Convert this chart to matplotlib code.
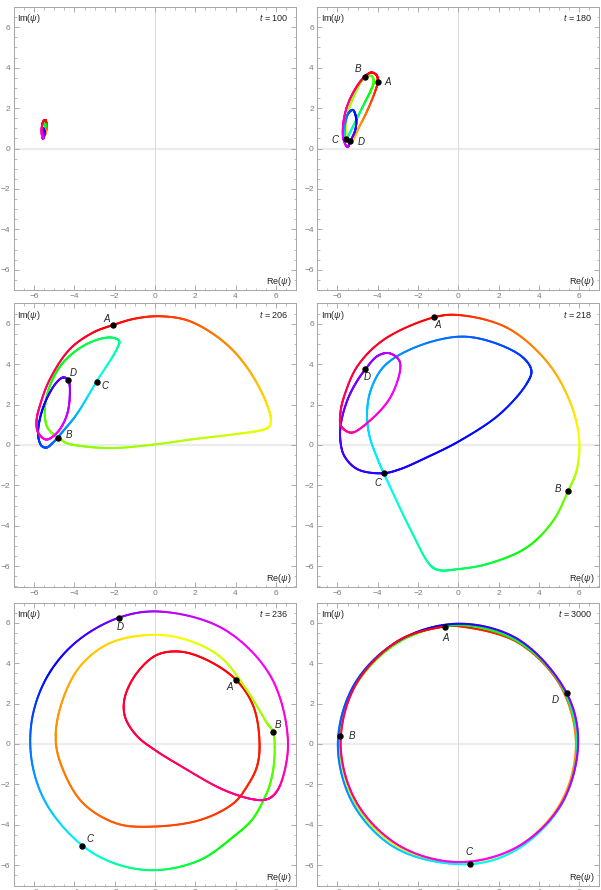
import numpy as np
import matplotlib
matplotlib.use("Agg")
import matplotlib.pyplot as plt
from matplotlib.collections import LineCollection
from matplotlib.colors import hsv_to_rgb

plt.rcParams['font.family'] = ['Liberation Sans', 'DejaVu Sans']
plt.rcParams['mathtext.fontset'] = 'custom'
plt.rcParams['mathtext.rm'] = 'Liberation Sans'
plt.rcParams['mathtext.it'] = 'Liberation Sans:italic'

# psi(theta) snapshots: knots along each closed curve, h = theta / 2pi (colour = Hue[h])
t100_x = [-5.40, -5.37, -5.41, -5.47, -5.52, -5.58, -5.54, -5.47, -5.43, -5.46, -5.50,
          -5.53, -5.56, -5.53, -5.49, -5.50, -5.56, -5.62, -5.62, -5.55, -5.45]
t100_y = [1.30, 1.10, 0.85, 0.65, 0.58, 0.85, 1.15, 1.33, 1.25, 1.00, 0.75,
          0.65, 0.80, 0.98, 0.85, 0.64, 0.48, 0.70, 1.05, 1.33, 1.41]
t100_h = [0, .04, .08, .12, .15, .19, .23, .25, .30, .38, .45,
          .50, .56, .62, .68, .75, .80, .85, .90, .95, .98]

t180_x = [-4.00, -4.16, -4.58, -5.00, -5.24, -5.42, -5.58, -5.52, -5.20, -4.63, -4.30,
          -4.20, -4.33, -4.66, -5.07, -5.40, -5.57, -5.64, -5.48, -5.24, -5.07, -5.12,
          -5.36, -5.50, -5.70, -5.72, -5.55, -5.20, -4.75, -4.33, -4.05]
t180_y = [3.30, 2.74, 1.74, 0.91, 0.41, 0.32, 0.75, 1.60, 2.55, 3.53, 3.58,
          3.30, 2.90, 2.24, 1.41, 0.75, 0.45, 1.00, 1.70, 1.91, 1.50, 0.90,
          0.36, 0.07, 0.45, 1.15, 2.00, 2.80, 3.45, 3.76, 3.62]
t180_h = [0, .03, .07, .11, .14, .16, .19, .215, .235, .25, .27,
          .29, .32, .37, .42, .47, .50, .55, .60, .63, .67, .71,
          .75, .79, .83, .87, .90, .93, .96, .98, .995]

t206_x = [-2.07, -1.00, 0.17, 1.50, 2.57, 3.70, 4.56, 5.20, 5.56, 5.75, 5.68, 5.30, 3.93,
          2.00, 0.00, -2.07, -3.50, -4.40, -4.81, -5.15, -5.39, -5.47, -5.22, -4.56, -3.40,
          -2.24, -1.78, -1.90, -2.90, -3.90, -4.56, -5.06, -5.39, -5.64, -5.80, -5.72, -5.39,
          -4.89, -4.56, -4.31, -4.23, -4.39, -4.85, -5.40, -5.80, -5.88, -5.72, -5.22, -4.23, -3.10]
t206_y = [5.94, 6.25, 6.37, 6.20, 5.70, 4.85, 3.85, 2.80, 2.00, 1.30, 0.92, 0.74, 0.53,
          0.30, 0.03, -0.15, -0.07, 0.10, 0.37, 0.62, 0.98, 1.77, 2.92, 4.08, 4.99,
          5.32, 5.15, 4.74, 3.14, 1.50, 0.69, 0.12, -0.13, -0.03, 0.45, 1.27, 2.26,
          3.09, 3.34, 3.22, 2.43, 1.44, 0.62, 0.27, 0.61, 1.20, 1.93, 3.25, 4.74, 5.55]
t206_h = [0, .015, .03, .05, .07, .09, .11, .13, .145, .16, .17, .18, .195,
          .21, .225, .235, .242, .247, .25, .26, .27, .29, .315, .345, .375,
          .40, .42, .44, .50, .55, .575, .595, .61, .62, .635, .655, .685,
          .715, .735, .75, .775, .80, .825, .85, .875, .895, .915, .94, .965, .985]

t218_x = [-1.23, 0.00, 2.40, 4.37, 5.53, 6.00, 5.87, 5.45, 4.70, 3.38, 1.39, -0.10, -0.90,
          -1.35, -2.42, -3.33, -3.70, -4.00, -4.41, -4.53, -4.33, -3.67, -2.17, 0.06, 1.72,
          3.21, 3.63, 3.38, 2.05, 0.06, -1.60, -2.93, -3.76, -5.00, -5.66, -5.86, -5.82,
          -5.49, -5.07, -4.61, -4.00, -3.42, -2.90, -3.33, -4.50, -5.32, -5.82, -5.85,
          -5.66, -5.00, -3.67]
t218_y = [6.31, 6.43, 5.81, 4.16, 2.18, 0.30, -1.28, -2.28, -3.76, -5.08, -5.90, -6.15, -6.20,
          -5.99, -4.09, -2.19, -1.40, -0.71, 0.45, 1.60, 2.76, 3.91, 4.82, 5.36, 5.08,
          4.33, 3.67, 3.01, 1.52, 0.20, -0.63, -1.21, -1.40, -1.20, -0.54, 0.28, 1.11,
          2.26, 3.09, 3.75, 4.41, 4.54, 4.10, 2.43, 1.11, 0.61, 0.94, 1.60,
          2.43, 3.91, 5.23]
t218_h = [0, .02, .06, .10, .14, .17, .21, .25, .29, .33, .37, .40, .42,
          .43, .46, .49, .50, .51, .52, .535, .55, .565, .58, .60, .615,
          .63, .64, .645, .655, .665, .675, .685, .69, .70, .71, .72, .725,
          .735, .745, .75, .77, .79, .81, .84, .87, .89, .91, .925,
          .94, .96, .98]

t236_x = [4.03, 4.89, 5.19, 5.06, 4.56, 3.90, 2.24, -0.25, -1.91, -3.57, -4.56, -4.93,
          -4.64, -3.73, -2.24, -0.08, 1.58, 3.23, 4.56, 5.57, 5.86, 5.92, 5.72, 5.39,
          4.81, 3.90, 2.24, 0.08, -1.88, -3.60, -5.34, -6.10, -6.10, -5.34, -3.91,
          -1.79, 0.27, 3.40, 5.74, 6.60, 6.21, 5.80, 5.39, 4.89, 4.06,
          3.07, 1.30, 0.00, -0.90, -1.49, -1.50, -0.91, 0.08, 1.24, 2.57]
t236_y = [3.17, 1.85, 0.03, -1.12, -2.11, -2.93, -3.76, -4.09, -3.93, -2.93, -1.29, 0.20,
          2.01, 3.83, 4.99, 5.40, 5.15, 4.32, 2.67, 1.02, 0.61, -0.79, -1.95, -2.77,
          -3.76, -4.58, -5.74, -6.24, -5.95, -5.03, -3.05, -0.96, 1.26, 3.35, 5.05,
          6.25, 6.55, 5.69, 3.35, 0.15, -2.04, -2.61, -2.77, -2.74, -2.52,
          -2.11, -1.10, -0.30, 0.40, 1.35, 2.30, 3.50, 4.40, 4.57, 4.16]
t236_h = [0, .01, .015, .02, .025, .03, .04, .05, .06, .07, .08, .09,
          .10, .12, .14, .16, .175, .195, .215, .24, .25, .27, .285, .295,
          .31, .33, .36, .40, .44, .50, .54, .58, .62, .66, .70,
          .75, .78, .815, .845, .87, .89, .90, .905, .91, .915,
          .925, .935, .945, .95, .96, .965, .975, .98, .985, .99]

# t = 3000: the curve winds three times clockwise; knots as polar angle (deg) and radius
t3000_ang = [96.7, 90, 60, 30, 0, -30, -60, -90, -120, -150, -184, -210, -240,
             -270, -300, -330, -360, -390, -420, -444.6, -480, -510, -540, -570, -600,
             -630, -660, -694.8, -720, -750, -780, -810, -840, -870, -900, -930, -960]
t3000_r = [5.85, 5.83, 5.824, 5.828, 5.84, 5.858, 5.876, 5.89, 5.896, 5.892, 5.91, 5.862, 5.844,
           5.88, 5.868, 5.875, 5.90, 5.935, 5.972, 5.97, 6.012, 6.005, 5.98, 5.945, 5.908,
           5.95, 5.97, 5.94, 5.95, 5.915, 5.875, 5.84, 5.82, 5.82, 5.84, 5.875, 5.915]
t3000_h = [0, .006, .033, .059, .086, .113, .140, .166, .193, .220, .25, .275, .304,
           .333, .361, .390, .418, .447, .476, .50, .535, .565, .595, .625, .655,
           .685, .715, .75, .772, .798, .824, .850, .876, .902, .928, .954, .980]
t3000_x = np.array(t3000_r) * np.cos(np.deg2rad(t3000_ang))
t3000_y = np.array(t3000_r) * np.sin(np.deg2rad(t3000_ang))

letters = ['A', 'B', 'C', 'D']
letter_h = [0.0, 0.25, 0.5, 0.75]
# label offsets from the marked point, in pixels (right, down)
offs_180 = [(10, 0), (-7, -8), (-11, 1), (11, 1)]
offs_206 = [(-7, -6), (11, -3), (8, 4), (5, -7)]
offs_218 = [(4, 8), (-10, -2), (-6, 10), (2, 8)]
offs_236 = [(-6, 7), (5, -7), (7, -7), (1, 9)]
offs_3000 = [(1, 11), (12, 0), (-1, -12), (-11, 7)]


def closed_spline(x, y, h, nsub=30):
    """Centripetal Catmull-Rom through a closed list of knots; hue follows linearly."""
    P = np.column_stack([x, y]).astype(float)
    n = len(P)
    H = np.append(h, h[0] + 1.0)
    out, hue = [], []
    for i in range(n):
        p0, p1, p2, p3 = P[(i - 1) % n], P[i], P[(i + 1) % n], P[(i + 2) % n]
        t0 = 0.0
        t1 = t0 + max(np.linalg.norm(p1 - p0), 1e-6) ** 0.5
        t2 = t1 + max(np.linalg.norm(p2 - p1), 1e-6) ** 0.5
        t3 = t2 + max(np.linalg.norm(p3 - p2), 1e-6) ** 0.5
        t = np.linspace(t1, t2, nsub, endpoint=False)[:, None]
        a1 = (t1 - t) / (t1 - t0) * p0 + (t - t0) / (t1 - t0) * p1
        a2 = (t2 - t) / (t2 - t1) * p1 + (t - t1) / (t2 - t1) * p2
        a3 = (t3 - t) / (t3 - t2) * p2 + (t - t2) / (t3 - t2) * p3
        b1 = (t2 - t) / (t2 - t0) * a1 + (t - t0) / (t2 - t0) * a2
        b2 = (t3 - t) / (t3 - t1) * a2 + (t - t1) / (t3 - t1) * a3
        out.append((t2 - t) / (t2 - t1) * b1 + (t - t1) / (t2 - t1) * b2)
        hue.append(np.linspace(H[i], H[i + 1], nsub, endpoint=False))
    out.append(P[:1])
    hue.append([H[-1]])
    return np.vstack(out), np.concatenate(hue)


def draw_panel(ax, x, y, h, tval, offs=None):
    x, y, h = np.asarray(x, float), np.asarray(y, float), np.asarray(h, float)
    ax.set_xlim(-7, 7)
    ax.set_ylim(-7, 7)
    ax.axhline(0, color='#ececec', lw=1.6, zorder=0)
    ax.axvline(0, color='#dadada', lw=0.7, zorder=0)

    pts, hue = closed_spline(x, y, h)
    segs = np.stack([pts[:-1], pts[1:]], axis=1)
    hh = hue[:-1] % 1.0
    cols = hsv_to_rgb(np.column_stack([hh, np.ones_like(hh), np.ones_like(hh)]))
    ax.add_collection(LineCollection(segs, colors=cols, linewidths=1.45,
                                     capstyle='round', zorder=2))

    if offs is not None:
        for lab, target, (dx, dy) in zip(letters, letter_h, offs):
            i = int(np.argmin(np.abs(h - target)))
            ax.plot(x[i], y[i], 'o', color='black', ms=3.6, zorder=4)
            ax.annotate(lab, (x[i], y[i]), xytext=(dx * 0.72, -dy * 0.72),
                        textcoords='offset points', ha='center', va='center',
                        fontsize=7, style='italic', color='#222222')

    ax.set_xticks(np.arange(-6, 7, 2))
    ax.set_yticks(np.arange(-6, 7, 2))
    ax.set_xticks(np.arange(-7, 7.01, 0.5), minor=True)
    ax.set_yticks(np.arange(-7, 7.01, 0.5), minor=True)
    ax.tick_params(which='both', direction='in', top=True, right=True,
                   color='#a0a0a0', labelcolor='#7a7a7a', labelsize=6, pad=2.5)
    ax.tick_params(which='major', length=3.5, width=0.6)
    ax.tick_params(which='minor', length=1.8, width=0.5)
    for sp in ax.spines.values():
        sp.set_color('#a6a6a6')
        sp.set_linewidth(0.7)

    ax.text(0.012, 0.958, r'Im($\psi$)', transform=ax.transAxes,
            ha='left', va='center', fontsize=6.5, color='#222222')
    ax.text(0.975, 0.962, r'$t$ = ' + tval, transform=ax.transAxes,
            ha='right', va='center', fontsize=6.5, color='#222222')
    ax.text(0.984, 0.03, r'Re($\psi$)', transform=ax.transAxes,
            ha='right', va='center', fontsize=6.5, color='#222222')


fig = plt.figure(figsize=(6.01, 8.90), dpi=100)
W, H = 282 / 601, 283 / 890
lefts = [14 / 601, 317.3 / 601]
bottoms = [1 - 290 / 890, 1 - 586.5 / 890, 1 - 885.5 / 890]

panels = [
    (t100_x, t100_y, t100_h, '100', None),
    (t180_x, t180_y, t180_h, '180', offs_180),
    (t206_x, t206_y, t206_h, '206', offs_206),
    (t218_x, t218_y, t218_h, '218', offs_218),
    (t236_x, t236_y, t236_h, '236', offs_236),
    (t3000_x, t3000_y, t3000_h, '3000', offs_3000),
]

for k, (px, py, ph, tv, offs) in enumerate(panels):
    ax = fig.add_axes([lefts[k % 2], bottoms[k // 2], W, H])
    draw_panel(ax, px, py, ph, tv, offs)

fig.savefig("out.png", dpi=100)
